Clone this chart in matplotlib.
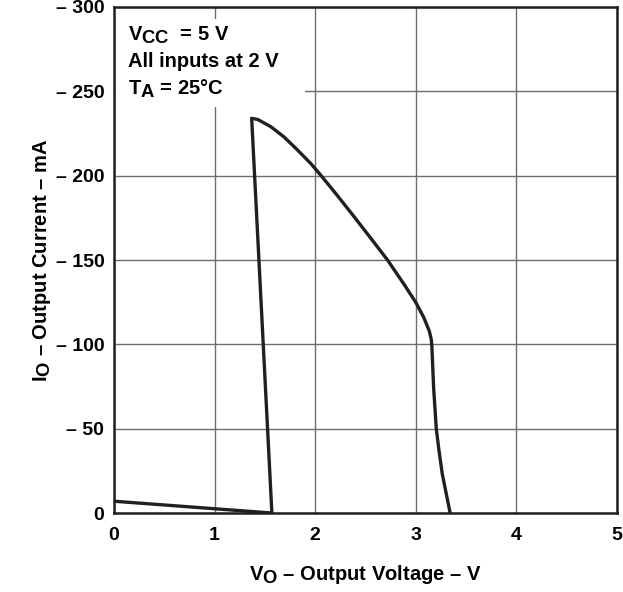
import matplotlib
matplotlib.use('Agg')
import matplotlib.pyplot as plt
import matplotlib._mathtext as mathtext_internals
from matplotlib.patches import Rectangle

plt.rcParams['font.family'] = ['Liberation Sans', 'DejaVu Sans']
plt.rcParams['font.weight'] = 'bold'
plt.rcParams['mathtext.fontset'] = 'custom'
plt.rcParams['mathtext.rm'] = 'Liberation Sans:bold'
plt.rcParams['mathtext.it'] = 'Liberation Sans:bold'
plt.rcParams['mathtext.bf'] = 'Liberation Sans:bold'
# datasheet style: subscripts nearly full size
mathtext_internals.SHRINK_FACTOR = 0.92

# output voltage (V) and output current (mA, negative = sourced)
vo = [0.0, 1.57, 1.369, 1.43, 1.56, 1.69, 1.82, 1.96, 2.06, 2.22, 2.39,
      2.55, 2.72, 2.88, 3.0, 3.08, 3.135, 3.155, 3.161, 3.178, 3.205,
      3.232, 3.265, 3.343]
io = [-7, 0, -234, -233.3, -229, -223, -215.5, -207, -200, -188.3, -175.5,
      -163.2, -150, -136, -125, -116, -108, -103, -99, -75, -50, -37, -23, 0]

x_ticks = [0, 1, 2, 3, 4, 5]
y_ticks = [0, -50, -100, -150, -200, -250, -300]
y_labels = ['0', '\u2013 50', '\u2013 100', '\u2013 150', '\u2013 200',
            '\u2013 250', '\u2013 300']

fig = plt.figure(figsize=(6.23, 5.92), dpi=100)
ax = fig.add_axes([0.1830, 0.1334, 0.8070, 0.8548])

ax.plot(vo, io, color='#231f20', lw=2.4, solid_joinstyle='round',
        solid_capstyle='round', zorder=3)

ax.set_xlim(0, 5)
ax.set_ylim(0, -300)
ax.set_xticks(x_ticks)
ax.set_yticks(y_ticks)
ax.set_yticklabels(y_labels)
ax.tick_params(length=0, labelsize=14)
ax.tick_params(axis='x', pad=10)
ax.tick_params(axis='y', pad=7)
ax.grid(True, color='#6d6d6d', lw=1.0)
for s in ax.spines.values():
    s.set_linewidth(1.8)
    s.set_color('#231f20')

ax.set_xlabel('$V_O$ \u2013 Output Voltage \u2013 V', fontsize=14.5,
              fontweight='bold', labelpad=14)
ax.set_ylabel('$I_O$ \u2013 Output Current \u2013 mA', fontsize=14.5,
              fontweight='bold', labelpad=2)

# white panel behind the conditions text
ax.add_patch(Rectangle((0.02, -293), 1.88, 52, facecolor='white',
                       edgecolor='none', zorder=2))
ax.text(0.14, -289.5, '$V_{CC}$  = 5 V' + '\nAll inputs at 2 V\n' + '$T_A$ = 25\u00b0C',
        fontsize=14.5, va='top', ha='left', linespacing=1.4, zorder=4)

fig.savefig('out.png', dpi=100)
